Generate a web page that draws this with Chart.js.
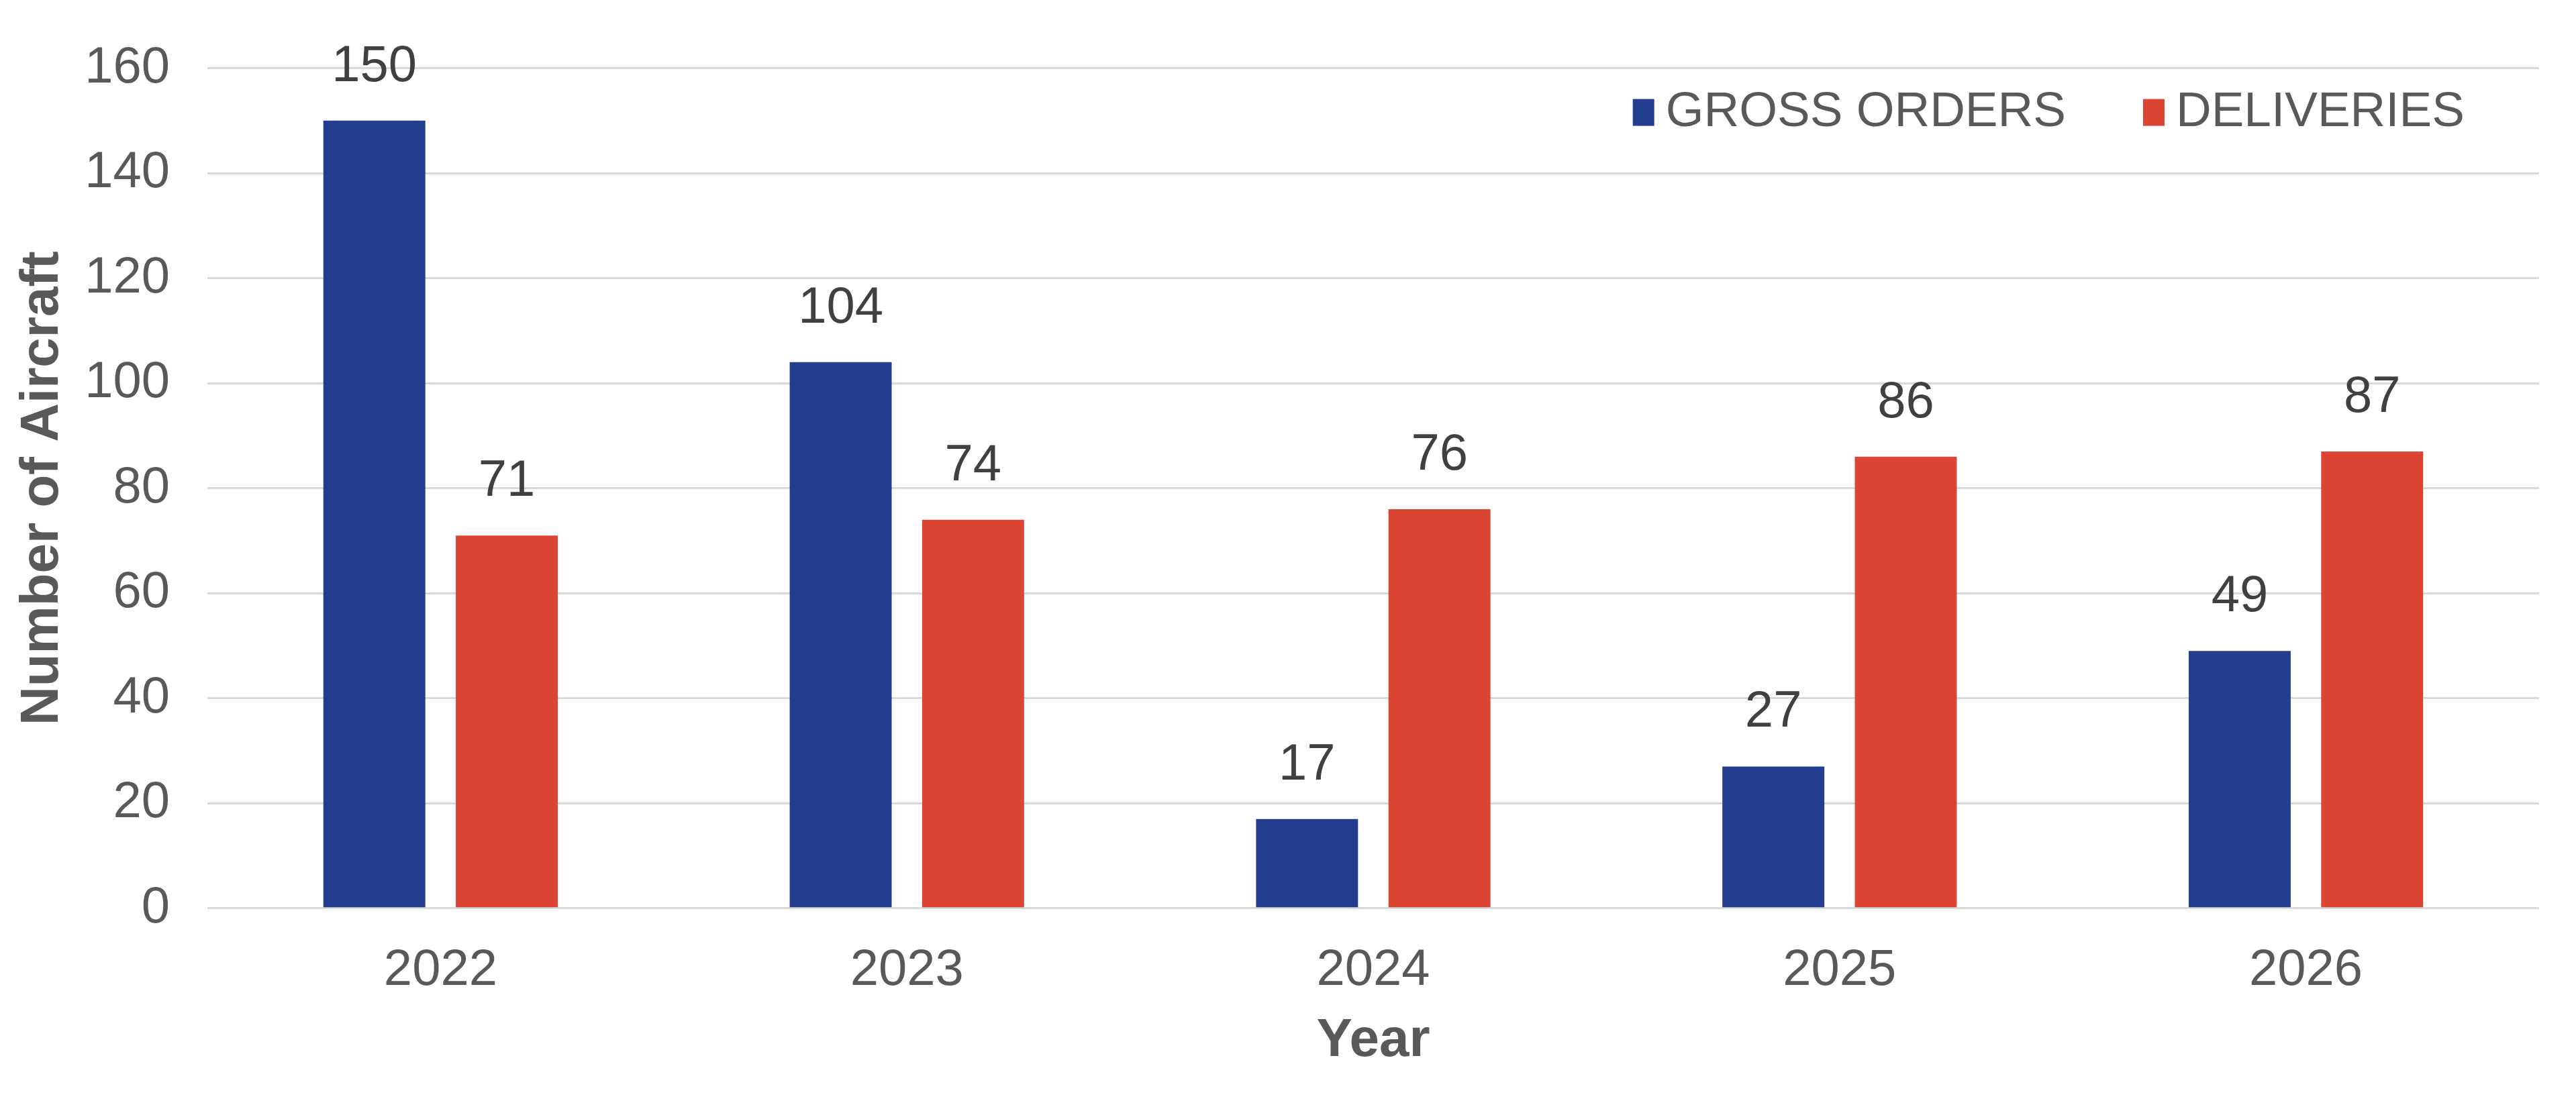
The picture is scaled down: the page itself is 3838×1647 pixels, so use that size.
<!doctype html>
<html lang="en">
  <head>
    <meta charset="utf-8">
    <script src="https://cdn.jsdelivr.net/npm/chart.js@4.4.1/dist/chart.umd.min.js"></script>
    <title>Orders and deliveries</title>
    <style>
      html, body { margin: 0; padding: 0; background: #fff; }
    </style>
  </head>
  <body>
    <canvas id="grafica" width="3838" height="1647"></canvas>
  </body>

  <script>
    // data
    let years = ["2022", "2023", "2024", "2025", "2026"];
    let grossOrders = [150, 104, 17, 27, 49];
    let deliveries = [71, 74, 76, 86, 87];
    let seriesNames = ["GROSS ORDERS", "DELIVERIES"];
    let yTicks = [0, 20, 40, 60, 80, 100, 120, 140, 160];

    let blue = "#243e8f";
    let red = "#dc4533";
    let fontName = "'Liberation Sans', Arial, sans-serif";

    // numbers above each bar
    const valueLabels = {
      id: "valueLabels",
      afterDatasetsDraw(chart) {
        let ctx = chart.ctx;
        ctx.save();
        ctx.fillStyle = "#404040";
        ctx.font = "76px " + fontName;
        ctx.textAlign = "center";
        ctx.textBaseline = "middle";
        chart.data.datasets.forEach((ds, i) => {
          chart.getDatasetMeta(i).data.forEach((bar, j) => {
            ctx.fillText(ds.data[j], bar.x, bar.y - 80);
          });
        });
        ctx.restore();
      }
    };

    // legend drawn inside the plot, top right
    const legendInside = {
      id: "legendInside",
      afterDraw(chart) {
        let ctx = chart.ctx;
        let area = chart.chartArea;
        ctx.save();
        ctx.font = "73px " + fontName;
        ctx.textBaseline = "middle";
        let y = area.top + 66;
        let x = area.right - 111;
        let items = chart.data.datasets.slice().reverse();
        items.forEach(ds => {
          let w = ctx.measureText(ds.label).width;
          x -= w;
          ctx.fillStyle = "#595959";
          ctx.fillText(ds.label, x, y);
          x -= 17 + 32;
          ctx.fillStyle = ds.backgroundColor;
          ctx.fillRect(x, y - 20, 32, 40);
          x -= 115;
        });
        ctx.restore();
      }
    };

    let canvas = document.getElementById("grafica").getContext("2d");

    var chart = new Chart(canvas, {
      type: "bar",
      data: {
        labels: years,
        datasets: [
          { label: seriesNames[0], data: grossOrders, backgroundColor: blue },
          { label: seriesNames[1], data: deliveries, backgroundColor: red }
        ]
      },
      options: {
        responsive: false,
        animation: false,
        categoryPercentage: 0.568,
        barPercentage: 0.77,
        layout: { padding: { top: 51, right: 55, left: 10, bottom: 47 } },
        plugins: {
          legend: { display: false },
          tooltip: { enabled: false }
        },
        scales: {
          x: {
            grid: { display: false },
            border: { display: false },
            ticks: { color: "#595959", font: { family: fontName, size: 76 }, padding: 40 },
            title: {
              display: true, text: "Year", color: "#595959",
              font: { family: fontName, size: 80, weight: "bold" },
              padding: { top: -29, bottom: 0 }
            }
          },
          y: {
            min: 0, max: 160,
            afterBuildTicks: axis => { axis.ticks = yTicks.map(v => ({ value: v })); },
            afterFit: axis => { axis.width = 299; },
            grid: { color: "#d9d9d9", lineWidth: 3, drawTicks: false },
            border: { display: false },
            ticks: { color: "#595959", font: { family: fontName, size: 76 }, padding: 56 },
            title: {
              display: true, text: "Number of Aircraft", color: "#595959",
              font: { family: fontName, size: 80, weight: "bold" },
              padding: { top: 6, bottom: 0 }
            }
          }
        }
      },
      plugins: [valueLabels, legendInside]
    });
  </script>
</html>
